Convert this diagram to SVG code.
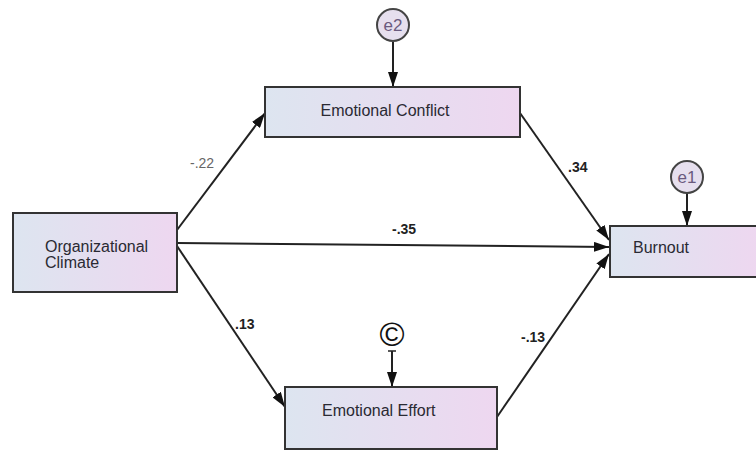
<svg xmlns="http://www.w3.org/2000/svg" width="756" height="451" viewBox="0 0 756 451">
<defs>
<linearGradient id="boxfill" x1="0" y1="0" x2="1" y2="0">
<stop offset="0" stop-color="#dde5f0"/>
<stop offset="1" stop-color="#eed7f0"/>
</linearGradient>
<marker id="arr" viewBox="0 0 15 10" refX="15" refY="5" markerWidth="15" markerHeight="10" markerUnits="userSpaceOnUse" orient="auto">
<path d="M0,0 L15,5 L0,10 Z" fill="#111"/>
</marker>
<style>
.box{fill:url(#boxfill);stroke:#333;stroke-width:2}
.lbl{font-family:"Liberation Sans",Arial,sans-serif;font-size:16px;fill:#2a2a33}
.coef{font-family:"Liberation Sans",Arial,sans-serif;font-size:14px;font-weight:bold;fill:#222}
.err{fill:#e6dfee;stroke:#444;stroke-width:2}
.errt{font-family:"Liberation Sans",Arial,sans-serif;font-size:17px;fill:#6a5a7e}
.con{stroke:#222;stroke-width:2;fill:none;marker-end:url(#arr)}
</style>
</defs>
<rect width="756" height="451" fill="#fff"/>
<g id="connectors">
<line class="con" x1="177" y1="230" x2="265" y2="113"/>
<line class="con" x1="177" y1="243" x2="609" y2="247"/>
<line class="con" x1="177" y1="246" x2="285" y2="407"/>
<line class="con" x1="520" y1="113" x2="609" y2="240"/>
<line class="con" x1="497" y1="417" x2="609" y2="254"/>
<line class="con" x1="393" y1="42" x2="393" y2="87"/>
<line class="con" x1="687" y1="193" x2="687" y2="226"/>
<line x1="388" y1="351" x2="396" y2="351" stroke="#222" stroke-width="1.5"/>
<line class="con" x1="392" y1="351" x2="392" y2="387"/>
</g>
<g id="organizational-climate">
<rect class="box" x="13" y="213" width="164" height="79"/>
<text class="lbl" x="45" y="252">Organizational</text>
<text class="lbl" x="45" y="268">Climate</text>
</g>
<g id="emotional-conflict">
<rect class="box" x="265" y="87" width="255" height="50"/>
<text class="lbl" x="385" y="116" text-anchor="middle">Emotional Conflict</text>
</g>
<g id="burnout">
<rect class="box" x="610" y="226" width="150" height="51"/>
<text class="lbl" x="633" y="253">Burnout</text>
</g>
<g id="emotional-effort">
<rect class="box" x="285" y="387" width="212" height="62"/>
<text class="lbl" x="322" y="416">Emotional Effort</text>
</g>
<g id="e2">
<circle class="err" cx="393" cy="25" r="16"/>
<text class="errt" x="393" y="31" text-anchor="middle">e2</text>
</g>
<g id="e1">
<circle class="err" cx="687" cy="177" r="16"/>
<text class="errt" x="687" y="183" text-anchor="middle">e1</text>
</g>
<g id="e3">
<text x="392" y="346" text-anchor="middle" font-family="'Liberation Sans',Arial,sans-serif" font-size="34" fill="#111">©</text>
</g>
<g id="coefficients">
<text x="190" y="168" font-family="'Liberation Sans',Arial,sans-serif" font-size="14" fill="#666">-.22</text>
<text class="coef" x="392" y="234">-.35</text>
<text class="coef" x="235" y="329">.13</text>
<text class="coef" x="568" y="172">.34</text>
<text class="coef" x="521" y="342">-.13</text>
</g>
</svg>
